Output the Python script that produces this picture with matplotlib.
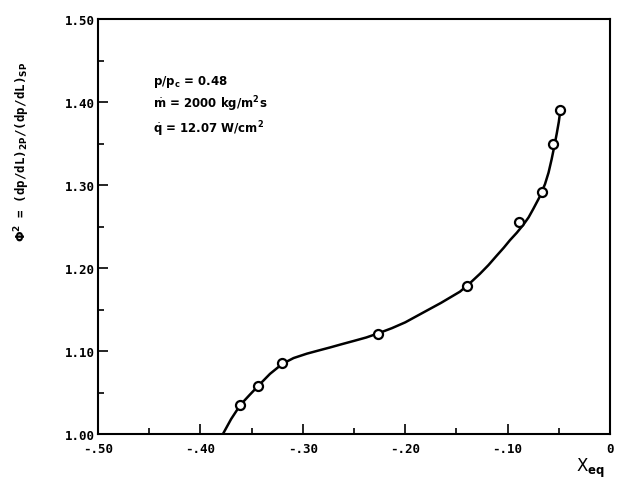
import matplotlib
matplotlib.use("Agg")
import matplotlib.pyplot as plt
from matplotlib.ticker import MultipleLocator, FixedLocator

# measured data points
x_data = [-0.361, -0.3435, -0.320, -0.227, -0.1393, -0.0889, -0.0667, -0.0557, -0.0485]
y_data = [1.035, 1.058, 1.0855, 1.121, 1.178, 1.256, 1.291, 1.349, 1.390]

# curve
x_curve = [-0.378, -0.370, -0.361, -0.352, -0.3435, -0.332, -0.320, -0.309, -0.296,
           -0.284, -0.273, -0.262, -0.250, -0.238, -0.227, -0.213, -0.200,
           -0.182, -0.165, -0.1465, -0.137, -0.127, -0.1187, -0.1107, -0.1037,
           -0.0977, -0.091, -0.0847, -0.0795, -0.075, -0.069, -0.0635, -0.060,
           -0.057, -0.0545, -0.052, -0.050, -0.0485]
y_curve = [1.000, 1.018, 1.035, 1.047, 1.058, 1.0725, 1.0845, 1.0915, 1.0968,
           1.1008, 1.1044, 1.1082, 1.1122, 1.1163, 1.1210, 1.1275, 1.1345,
           1.1466, 1.1580, 1.1715, 1.1815, 1.1930, 1.2035, 1.2148, 1.2245,
           1.2335, 1.2425, 1.2520, 1.2610, 1.2710, 1.2850, 1.3010, 1.3150,
           1.3310, 1.3460, 1.3620, 1.3760, 1.3900]

x_ticks = [-0.5, -0.4, -0.3, -0.2, -0.1, 0.0]
x_tick_labels = ["-.50", "-.40", "-.30", "-.20", "-.10", "0"]
y_ticks = [1.0, 1.1, 1.2, 1.3, 1.4, 1.5]
y_tick_labels = ["1.00", "1.10", "1.20", "1.30", "1.40", "1.50"]

W, H = 617, 489
fig = plt.figure(figsize=(W / 100, H / 100), dpi=100)
ax = fig.add_axes([98 / W, 1 - 435 / H, (610 - 98) / W, (435 - 20) / H])

ax.plot(x_curve, y_curve, color="black", lw=1.8, solid_capstyle="round", solid_joinstyle="round")
ax.plot(x_data, y_data, linestyle="none", marker="o", ms=6.5, mfc="white", mec="black", mew=1.6)

ax.set_xlim(-0.5, 0.0)
ax.set_ylim(1.0, 1.5)
ax.xaxis.set_major_locator(FixedLocator(x_ticks))
ax.yaxis.set_major_locator(FixedLocator(y_ticks))
ax.xaxis.set_minor_locator(MultipleLocator(0.05))
ax.yaxis.set_minor_locator(MultipleLocator(0.05))
mono = {"family": "DejaVu Sans Mono", "weight": "bold", "size": 9}
ax.set_xticklabels(x_tick_labels, fontdict=mono)
ax.set_yticklabels(y_tick_labels, fontdict=mono)
ax.tick_params(which="both", direction="in", top=False, right=False, width=1.2)
ax.tick_params(axis="x", which="major", length=7, pad=6)
ax.tick_params(axis="y", which="major", length=7, pad=2)
ax.tick_params(which="minor", length=4)
for s in ax.spines.values():
    s.set_linewidth(1.5)

txt = {"family": "DejaVu Sans", "weight": "bold", "size": 8.5}
plt.rcParams["mathtext.fontset"] = "dejavusans"
fig.text(153 / W, 1 - 82 / H, r"p/p$_\mathbf{c}$ = 0.48", va="center", ha="left", **txt)
fig.text(153 / W, 1 - 104 / H, r"$\dot{\mathbf{m}}$ = 2000 kg/m$^\mathbf{2}$s", va="center", ha="left", **txt)
fig.text(153 / W, 1 - 129 / H, r"$\dot{\mathbf{q}}$ = 12.07 W/cm$^\mathbf{2}$", va="center", ha="left", **txt)

fig.text(22 / W, 1 - 152 / H, r"$\mathbf{\Phi^2}$ = (dp/dL)$_\mathbf{2P}$/(dp/dL)$_\mathbf{SP}$",
         rotation=90, va="center", ha="center", family="DejaVu Sans Mono", weight="bold", size=9)
fig.text(590 / W, 1 - 468 / H, r"X$_\mathbf{eq}$", va="center", ha="center", family="DejaVu Sans", size=12)

fig.savefig("out.png", dpi=100)
